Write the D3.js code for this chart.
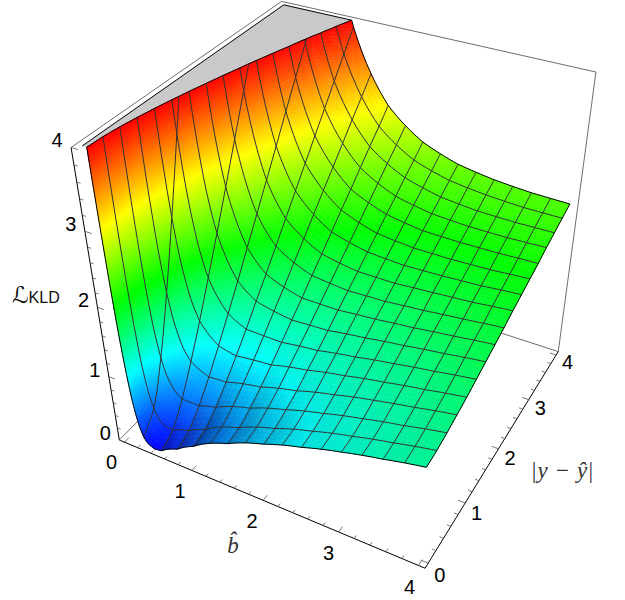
<!DOCTYPE html>
<html>
<head>
<meta charset="utf-8">
<script src="https://cdn.jsdelivr.net/npm/d3@7"></script>
<style>
  html, body { margin: 0; padding: 0; background: #fff; }
  svg { display: block; }
</style>
</head>
<body>
<svg id="chart" width="625" height="600"></svg>
<script>
// grid: one row per |y-yhat|, one column per bhat
const bValues = [0.05, 0.06, 0.08, 0.1, 0.15, 0.2, 0.25, 0.3, 0.4, 0.5, 0.75, 1, 1.5, 2, 2.5, 3, 3.5, 4];
const yValues = [0, 0.25, 0.5, 0.75, 1, 1.25, 1.5, 1.75, 2, 2.25, 2.5, 2.75, 3, 3.25, 3.5, 3.75, 4];

const rowY000 = [4.92, 3.77, 2.39, 1.61, 0.69, 0.31, 0.13, 0.05, 0, 0.02, 0.16, 0.32, 0.59, 0.81, 0.99, 1.15, 1.28, 1.40];
const rowY025 = [6.20, 4.84, 3.19, 2.26, 1.11, 0.63, 0.39, 0.26, 0.16, 0.15, 0.25, 0.38, 0.63, 0.84, 1.02, 1.17, 1.30, 1.42];
const rowY050 = [9.21, 7.35, 5.07, 3.76, 2.12, 1.38, 0.99, 0.76, 0.54, 0.45, 0.45, 0.53, 0.73, 0.92, 1.08, 1.22, 1.34, 1.46];
const rowY075 = [13.15, 10.63, 7.53, 5.73, 3.43, 2.36, 1.78, 1.42, 1.03, 0.85, 0.71, 0.73, 0.86, 1.01, 1.16, 1.29, 1.40, 1.51];
const rowY100 = [17.58, 14.32, 10.30, 7.94, 4.90, 3.47, 2.66, 2.15, 1.58, 1.29, 1.01, 0.95, 1.01, 1.13, 1.25, 1.36, 1.46, 1.56];
const rowY125 = [22.27, 18.23, 13.24, 10.29, 6.47, 4.65, 3.60, 2.94, 2.17, 1.76, 1.32, 1.18, 1.17, 1.24, 1.34, 1.44, 1.53, 1.62];
const rowY150 = [27.11, 22.26, 16.26, 12.71, 8.08, 5.85, 4.57, 3.74, 2.77, 2.24, 1.64, 1.43, 1.33, 1.36, 1.44, 1.52, 1.60, 1.68];
const rowY175 = [32.02, 26.35, 19.33, 15.16, 9.72, 7.08, 5.55, 4.56, 3.39, 2.73, 1.97, 1.67, 1.49, 1.49, 1.54, 1.60, 1.67, 1.74];
const rowY200 = [36.97, 30.48, 22.42, 17.64, 11.37, 8.32, 6.54, 5.39, 4.01, 3.23, 2.30, 1.92, 1.66, 1.61, 1.63, 1.68, 1.74, 1.80];
const rowY225 = [41.95, 34.62, 25.53, 20.13, 13.03, 9.56, 7.54, 6.22, 4.63, 3.73, 2.63, 2.17, 1.82, 1.73, 1.73, 1.77, 1.81, 1.87];
const rowY250 = [46.94, 38.78, 28.65, 22.62, 14.69, 10.81, 8.53, 7.05, 5.25, 4.22, 2.96, 2.42, 1.99, 1.86, 1.83, 1.85, 1.88, 1.93];
const rowY275 = [51.93, 42.94, 31.77, 25.12, 16.36, 12.06, 9.53, 7.88, 5.88, 4.72, 3.30, 2.67, 2.16, 1.98, 1.93, 1.93, 1.95, 1.99];
const rowY300 = [56.92, 47.10, 34.89, 27.61, 18.02, 13.31, 10.53, 8.71, 6.50, 5.22, 3.63, 2.92, 2.32, 2.11, 2.03, 2.02, 2.03, 2.05];
const rowY325 = [61.92, 51.27, 38.02, 30.11, 19.69, 14.56, 11.53, 9.54, 7.13, 5.72, 3.96, 3.17, 2.49, 2.23, 2.13, 2.10, 2.10, 2.12];
const rowY350 = [66.92, 55.44, 41.14, 32.61, 21.35, 15.81, 12.53, 10.38, 7.75, 6.22, 4.30, 3.42, 2.66, 2.36, 2.23, 2.18, 2.17, 2.18];
const rowY375 = [71.92, 59.60, 44.27, 35.11, 23.02, 17.06, 13.53, 11.21, 8.38, 6.72, 4.63, 3.67, 2.82, 2.48, 2.33, 2.27, 2.24, 2.24];
const rowY400 = [76.92, 63.77, 47.39, 37.61, 24.69, 18.31, 14.53, 12.05, 9.00, 7.22, 4.96, 3.92, 2.99, 2.61, 2.43, 2.35, 2.31, 2.30];
const zGrid = [rowY000, rowY025, rowY050, rowY075, rowY100, rowY125, rowY150, rowY175, rowY200,
  rowY225, rowY250, rowY275, rowY300, rowY325, rowY350, rowY375, rowY400];

// mesh lines and axis ticks
const meshB = [0.25, 0.5, 0.75, 1, 1.25, 1.5, 1.75, 2, 2.25, 2.5, 2.75, 3, 3.25, 3.5, 3.75];
const tickLabels = [0, 1, 2, 3, 4];
const minorTicks = d3.range(0, 4.01, 0.2);

const zMax = 4;
const pad = 0.08; // box goes a little past the plot range in b and y

// box corners and a few read points [b, y, z, px, py], used to fit the camera
const cameraPoints = [
  [-pad, -pad, 0, 117.3, 441.3],
  [4 + pad, -pad, 0, 424.3, 570],
  [4 + pad, 4 + pad, 0, 558.3, 352.3],
  [-pad, -pad, 4, 71, 147.7],
  [-pad, 4 + pad, 4, 281.7, 1.7],
  [4 + pad, 4 + pad, 4, 596, 71.7],
  [4, 0, 1.40, 426, 468.3],
  [4, 4, 2.30, 569.3, 203.3],
  [0.97, 4, 4, 351.7, 20],
  [1, -pad, 0, 193, 470],
  [2, -pad, 0, 265, 498],
  [3, -pad, 0, 339, 530.7]
];

// least squares for the 3x4 projection matrix
function fitCamera(pts) {
  const n = 11;
  const ata = d3.range(n).map(() => new Array(n + 1).fill(0));
  function add(row, rhs) {
    for (let i = 0; i < n; i++) {
      for (let j = 0; j < n; j++) ata[i][j] += row[i] * row[j];
      ata[i][n] += row[i] * rhs;
    }
  }
  pts.forEach(function(p) {
    const [x, y, z, u, v] = p;
    add([x, y, z, 1, 0, 0, 0, 0, -u * x, -u * y, -u * z], u);
    add([0, 0, 0, 0, x, y, z, 1, -v * x, -v * y, -v * z], v);
  });
  for (let i = 0; i < n; i++) {
    let best = i;
    for (let k = i + 1; k < n; k++) if (Math.abs(ata[k][i]) > Math.abs(ata[best][i])) best = k;
    [ata[i], ata[best]] = [ata[best], ata[i]];
    for (let k = 0; k < n; k++) {
      if (k === i) continue;
      const f = ata[k][i] / ata[i][i];
      for (let j = i; j <= n; j++) ata[k][j] -= f * ata[i][j];
    }
  }
  return ata.map((r, i) => r[n] / r[i]);
}
const cam = fitCamera(cameraPoints);

function project(b, y, z) {
  const w = cam[8] * b + cam[9] * y + cam[10] * z + 1;
  return [(cam[0] * b + cam[1] * y + cam[2] * z + cam[3]) / w,
          (cam[4] * b + cam[5] * y + cam[6] * z + cam[7]) / w];
}

// the surface is close to straight in 1/b, so the columns are read on that scale
const colScale = d3.scaleLinear().domain(bValues.map(b => 1 / b)).range(d3.range(bValues.length));
const rowScale = d3.scaleLinear().domain(yValues).range(d3.range(yValues.length));

function zAt(b, y) {
  const c = Math.min(colScale(1 / b), bValues.length - 1.0001);
  const r = Math.min(rowScale(y), yValues.length - 1.0001);
  const ci = Math.floor(c), ri = Math.floor(r), cf = c - ci, rf = r - ri;
  return (zGrid[ri][ci] * (1 - cf) + zGrid[ri][ci + 1] * cf) * (1 - rf)
       + (zGrid[ri + 1][ci] * (1 - cf) + zGrid[ri + 1][ci + 1] * cf) * rf;
}

const hue = d3.scaleLinear().domain([0, zMax]).range([240, 0]);
function surfaceColor(b, y, z) {
  const e = 0.02;
  const dzb = (zAt(Math.min(b + e, 4), y) - zAt(Math.max(b - e, 0.05), y)) / (Math.min(b + e, 4) - Math.max(b - e, 0.05));
  const dzy = (zAt(b, Math.min(y + 0.12, 4)) - zAt(b, Math.max(y - 0.12, 0))) / (Math.min(y + 0.12, 4) - Math.max(y - 0.12, 0));
  const nz = 1 / Math.sqrt(1 + dzb * dzb + dzy * dzy);
  const tilt = Math.max(0, dzb * nz);
  const light = 1 - 1.1 * tilt * tilt;
  const c = d3.hsl(hue(Math.min(z, zMax)), 1, 0.5).rgb();
  return d3.rgb(c.r * light, c.g * light, c.b * light).formatHex();
}

// cut a polygon of [b, y, z] at the top of the plot range
function clipTop(poly) {
  const out = [];
  poly.forEach(function(p, i) {
    const q = poly[(i + 1) % poly.length];
    if (p[2] <= zMax) out.push(p);
    if ((p[2] <= zMax) !== (q[2] <= zMax)) {
      const t = (zMax - p[2]) / (q[2] - p[2]);
      out.push([p[0] + t * (q[0] - p[0]), p[1] + t * (q[1] - p[1]), zMax]);
    }
  });
  return out;
}

// keep the part of a line under the top of the plot range
function clipLine(pts) {
  const out = [];
  pts.forEach(function(p, i) {
    const q = pts[i + 1];
    if (p[2] <= zMax) out.push(p);
    if (q && (p[2] <= zMax) !== (q[2] <= zMax)) {
      const t = (zMax - p[2]) / (q[2] - p[2]);
      out.push([p[0] + t * (q[0] - p[0]), p[1] + t * (q[1] - p[1]), zMax]);
    }
  });
  return out;
}

const bSamples = d3.range(0.05, 0.2, 0.005).concat(d3.range(0.2, 1, 0.025), d3.range(1, 4, 0.0625), [4]);
const ySamples = d3.range(0, 4.001, 0.0625);

// where the surface leaves the top, for each y
const clipEdge = ySamples.map(function(y) {
  const inv = d3.range(0.25, 20.01, 0.01);
  let k = 0;
  while (k < inv.length - 1 && zAt(1 / inv[k], y) < zMax) k++;
  return [1 / inv[k], y, zMax];
});

const svg = d3.select("#chart");
const pathOf = d3.line().x(d => project(d[0], d[1], d[2])[0]).y(d => project(d[0], d[1], d[2])[1]);
const smoothPath = d3.line().curve(d3.curveCatmullRom).x(d => project(d[0], d[1], d[2])[0]).y(d => project(d[0], d[1], d[2])[1]);

function boxLine(a, b, color) {
  svg.append("path").attr("d", pathOf([a, b])).attr("fill", "none")
    .attr("stroke", color).attr("stroke-width", 1);
}

const lo = -pad, hi = 4 + pad;
const boxGray = "#6e6e6e";

// back of the box
boxLine([lo, hi, zMax], [lo, lo, zMax], boxGray);
boxLine([lo, hi, zMax], [hi, hi, zMax], boxGray);
boxLine([hi, hi, zMax], [hi, hi, 0], boxGray);
boxLine([lo, lo, 0], [lo, hi, 0], boxGray);
boxLine([lo, hi, 0], [hi, hi, 0], boxGray);

// grey clipped top
const topPoly = [[0, 0, zMax], [0, 4, zMax]].concat(clipEdge.slice().reverse());
svg.append("path").attr("d", pathOf(topPoly) + "Z").attr("fill", "#c9c9c9").attr("stroke", "none");

// surface patches, far ones first; steep patches are split so the colour stays smooth
const patches = [];
function addPatch(b0, b1, y0, y1, depth) {
  const zs = [zAt(b0, y0), zAt(b1, y0), zAt(b1, y1), zAt(b0, y1)];
  const low = d3.min(zs);
  if (low > zMax) return;
  const rangeB = Math.max(Math.abs(zs[1] - zs[0]), Math.abs(zs[2] - zs[3]));
  const rangeY = Math.max(Math.abs(zs[3] - zs[0]), Math.abs(zs[2] - zs[1]));
  if (depth < 7 && Math.max(rangeB, rangeY) > 0.05) {
    if (rangeB >= rangeY) {
      const m = Math.sqrt(b0 * b1);
      addPatch(b0, m, y0, y1, depth + 1);
      addPatch(m, b1, y0, y1, depth + 1);
    } else {
      const m = (y0 + y1) / 2;
      addPatch(b0, b1, m, y1, depth + 1);
      addPatch(b0, b1, y0, m, depth + 1);
    }
    return;
  }
  const poly = clipTop([[b0, y0, zs[0]], [b1, y0, zs[1]], [b1, y1, zs[2]], [b0, y1, zs[3]]]);
  if (poly.length < 3) return;
  patches.push({poly: poly, color: surfaceColor((b0 + b1) / 2, (y0 + y1) / 2, d3.mean(poly, d => d[2]))});
}
for (let j = ySamples.length - 2; j >= 0; j--) {
  for (let i = 0; i < bSamples.length - 1; i++) {
    addPatch(bSamples[i], bSamples[i + 1], ySamples[j], ySamples[j + 1], 0);
  }
}
svg.append("g").selectAll("path").data(patches).enter().append("path")
  .attr("d", d => pathOf(d.poly) + "Z")
  .attr("fill", d => d.color)
  .attr("stroke", d => d.color)
  .attr("stroke-width", 0.5);

// mesh
const mesh = svg.append("g").attr("fill", "none").attr("stroke", "#333").attr("stroke-width", 1);
yValues.slice(1, -1).forEach(function(y) {
  mesh.append("path").attr("d", pathOf(clipLine(bSamples.map(b => [b, y, zAt(b, y)]))));
});
meshB.forEach(function(b) {
  mesh.append("path").attr("d", smoothPath(clipLine(yValues.map(y => [b, y, zAt(b, y)]))));
});

// outline of the surface and of the grey top
const outline = svg.append("g").attr("fill", "none").attr("stroke", "#000").attr("stroke-width", 1);
outline.append("path").attr("d", pathOf(clipLine(bSamples.map(b => [b, 0, zAt(b, 0)]))));
outline.append("path").attr("d", pathOf(clipLine(bSamples.map(b => [b, 4, zAt(b, 4)]))));
outline.append("path").attr("d", pathOf(ySamples.map(y => [4, y, zAt(4, y)])));
outline.append("path").attr("d", pathOf(clipEdge));
outline.append("path").attr("d", pathOf([[0, 0, zMax], [0, 4, zMax], clipEdge[clipEdge.length - 1]]));

// front axes
boxLine([lo, lo, 0], [lo, lo, zMax], "#000");
boxLine([lo, lo, 0], [hi, lo, 0], "#000");
boxLine([hi, lo, 0], [hi, hi, 0], "#000");

// ticks
const tickG = svg.append("g").attr("fill", "none").attr("stroke", "#555").attr("stroke-width", 0.8);
minorTicks.forEach(function(t) {
  const len = Math.abs(t - Math.round(t)) < 0.001 ? 0.09 : 0.05;
  tickG.append("path").attr("d", pathOf([[lo, lo, t], [lo + len, lo, t]]));
  tickG.append("path").attr("d", pathOf([[t, lo, 0], [t, lo + len, 0]]));
  tickG.append("path").attr("d", pathOf([[hi, t, 0], [hi - len, t, 0]]));
});

// tick labels
const labelFont = "'Liberation Sans', Arial, sans-serif";
function tickLabel(p, dx, dy, s) {
  svg.append("text").attr("x", p[0] + dx).attr("y", p[1] + dy)
    .attr("text-anchor", "middle").attr("dominant-baseline", "central")
    .attr("font-family", labelFont).attr("font-size", 20).attr("fill", "#000").text(s);
}
tickLabels.forEach(function(t) {
  tickLabel(project(lo, lo, t), -14, -7, t);
  tickLabel(project(t, lo, 0), -13 + t, 20 + t * 0.4, t);
  tickLabel(project(hi, t, 0), 11.5, 7 + (4 - t) * 1.1, t);
});

// axis titles
const zTitle = svg.append("text").attr("x", 12).attr("y", 303).attr("fill", "#111");
zTitle.append("tspan").attr("font-family", "'DejaVu Sans', sans-serif").attr("font-size", 23).text("ℒ");
zTitle.append("tspan").attr("font-family", labelFont).attr("font-size", 16).text("KLD");

const mathFont = "'Liberation Serif', 'DejaVu Serif', serif";
svg.append("text").attr("x", 233).attr("y", 553).attr("text-anchor", "middle")
  .attr("font-family", mathFont).attr("font-style", "italic").attr("font-size", 23).attr("fill", "#333")
  .text("b\u0302");
const yTitle = svg.append("text").attr("x", 563).attr("y", 478).attr("text-anchor", "middle")
  .attr("font-family", mathFont).attr("font-size", 23).attr("letter-spacing", 1.2).attr("fill", "#333");
yTitle.append("tspan").text("|");
yTitle.append("tspan").attr("font-style", "italic").text("y");
yTitle.append("tspan").text(" \u2212 ");
yTitle.append("tspan").attr("font-style", "italic").text("y\u0302");
yTitle.append("tspan").text("|");
</script>
</body>
</html>
